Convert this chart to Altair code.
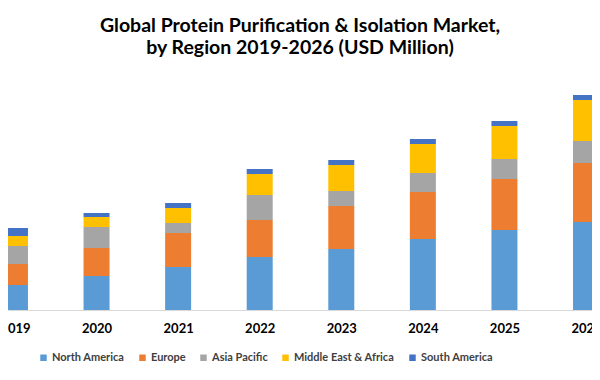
import altair as alt
import pandas as pd

years = [2019, 2020, 2021, 2022, 2023, 2024, 2025, 2026]
regions = ["North America", "Europe", "Asia Pacific", "Middle East & Africa", "South America"]
colors = ["#5B9BD5", "#ED7D31", "#A5A5A5", "#FFC000", "#4472C4"]

north_america = [25, 34, 43, 53, 61, 71, 80, 88]
europe = [21, 28, 34, 37, 43, 47, 51, 59]
asia_pacific = [18, 21, 10, 25, 15, 19, 20, 22]
mea = [10, 10, 15, 21, 26, 29, 33, 41]
south_america = [8, 4, 5, 5, 5, 5, 5, 5]

series = [north_america, europe, asia_pacific, mea, south_america]
rows = []
for i, (name, vals) in enumerate(zip(regions, series)):
    for y, v in zip(years, vals):
        rows.append({"year": y, "region": name, "value": v, "idx": i})
df = pd.DataFrame(rows)

FONT = "Lato"
step = 83.0
W = 584
d0 = 2019 - 2.0 / step
d1 = d0 + W / step

chart = alt.Chart(df).mark_bar(size=26, clip=True).encode(
    x=alt.X("year:Q",
            scale=alt.Scale(domain=[d0, d1], nice=False, zero=False),
            axis=alt.Axis(values=years, format="d", ticks=False, grid=False, title=None,
                          domainColor="#d9d9d9", labelFont=FONT, labelFontWeight="bold",
                          labelFontSize=13, labelColor="#000000", labelPadding=12,
                          labelFlush=False, labelOverlap=False)),
    y=alt.Y("value:Q", stack="zero", scale=alt.Scale(domain=[0, 220], nice=False), axis=None),
    color=alt.Color("region:N", scale=alt.Scale(domain=regions, range=colors),
                    legend=alt.Legend(orient="none", legendX=30, legendY=262, direction="horizontal",
                                      columns=5, title=None, symbolType="square", symbolSize=42,
                                      symbolStrokeWidth=0, labelFont=FONT, labelFontSize=11,
                                      labelFontWeight="bold", labelColor="#404040",
                                      columnPadding=12, labelOffset=3)),
    order=alt.Order("idx:Q", sort="ascending"),
).properties(
    width=W, height=220,
    padding={"left": 0, "top": 82, "right": 0, "bottom": 56},
    autosize=alt.AutoSizeParams(type="none"),
    title=alt.TitleParams(
        text=["Global Protein Purification & Isolation Market,", "by Region 2019-2026 (USD Million)"],
        anchor="middle", font=FONT, fontSize=19.5, fontWeight="bold", color="#000000",
        lineHeight=22, offset=32),
).configure_view(stroke=None)

chart.save("out.html", embed_options={"renderer": "svg", "actions": False})
